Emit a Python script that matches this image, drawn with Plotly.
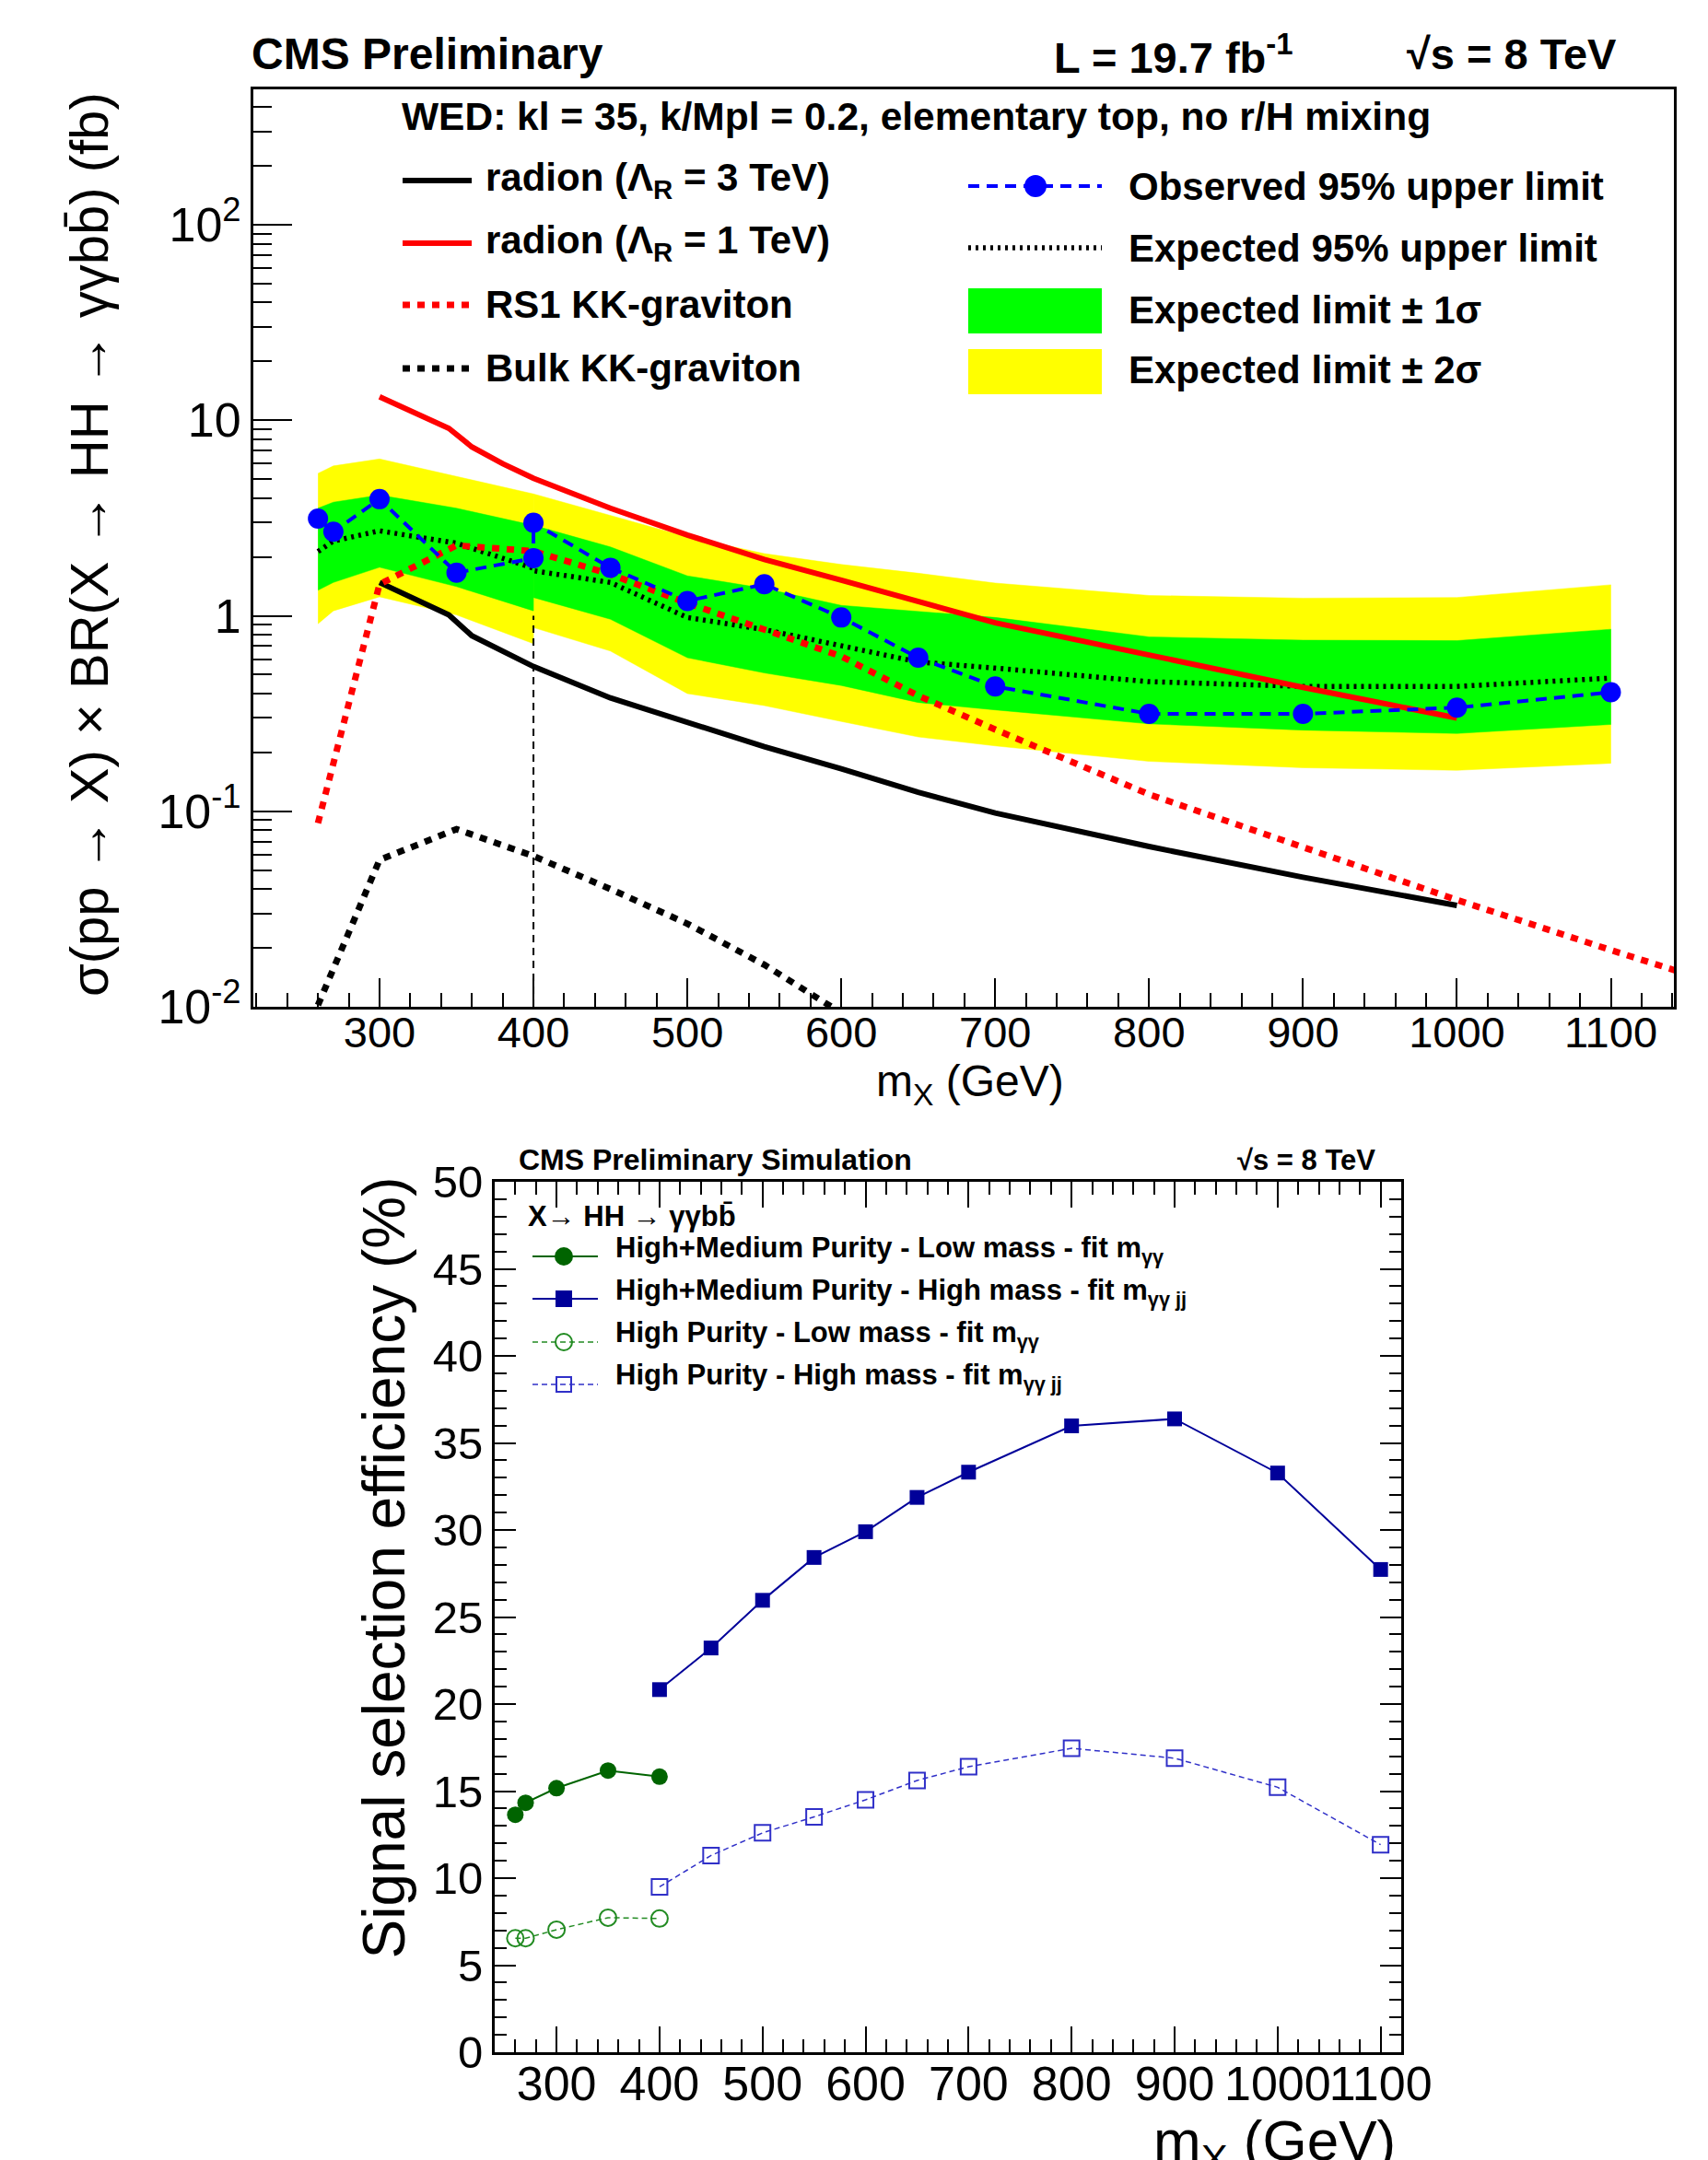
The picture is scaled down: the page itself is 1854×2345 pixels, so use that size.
import plotly.graph_objects as go

# ---------------- top panel data (sigma x BR, fb) ----------------
mass_low = [260, 270, 300, 350, 400]
mass_high = [400, 450, 500, 550, 600, 650, 700, 800, 900, 1000, 1100]

obs_low = [3.14, 2.69, 3.95, 1.66, 1.97]
obs_high = [2.99, 1.76, 1.19, 1.45, 0.98, 0.61, 0.435, 0.315, 0.315, 0.339, 0.406]

exp_low = [2.13, 2.41, 2.72, 2.35, 1.75]
exp_high = [1.70, 1.48, 0.98, 0.85, 0.70, 0.58, 0.54, 0.46, 0.435, 0.435, 0.48]

s1_up_low = [3.55, 3.81, 4.14, 3.55, 2.90]
s1_dn_low = [1.35, 1.48, 1.77, 1.41, 1.06]
s2_up_low = [5.35, 5.84, 6.34, 5.18, 4.20]
s2_dn_low = [0.91, 1.06, 1.25, 1.01, 0.72]

s1_up_high = [2.90, 2.25, 1.60, 1.38, 1.13, 1.05, 0.98, 0.78, 0.75, 0.746, 0.853]
s1_dn_high = [1.24, 0.96, 0.61, 0.51, 0.44, 0.36, 0.33, 0.28, 0.26, 0.25, 0.278]
s2_up_high = [4.20, 3.27, 2.53, 2.08, 1.83, 1.65, 1.47, 1.27, 1.23, 1.24, 1.44]
s2_dn_high = [0.87, 0.66, 0.40, 0.347, 0.288, 0.24, 0.216, 0.18, 0.167, 0.162, 0.176]

radion_mass = [300, 345, 360, 380, 400, 450, 500, 550, 600, 650, 700, 800, 900, 1000]
radion_1tev = [13.2, 9.1, 7.3, 6.0, 5.05, 3.55, 2.59, 1.94, 1.52, 1.18, 0.92, 0.63, 0.43, 0.30]
radion_3tev = [1.48, 1.01, 0.79, 0.66, 0.55, 0.38, 0.286, 0.214, 0.165, 0.125, 0.098, 0.066, 0.046, 0.033]

rs1_mass = [260, 300, 350, 400, 450, 500, 550, 600, 650, 700, 800, 900, 1000, 1100, 1200]
rs1_xsec = [0.087, 1.45, 2.29, 2.14, 1.63, 1.16, 0.85, 0.62, 0.39, 0.262, 0.122, 0.065, 0.0352, 0.0195, 0.011]

bulk_mass = [260, 300, 350, 400, 450, 500, 550, 600]
bulk_xsec = [0.0102, 0.0564, 0.081, 0.059, 0.040, 0.0266, 0.0164, 0.0093]

boundary_mass = [400, 400]
boundary_y = [0.01, 1.0]

# ---------------- bottom panel data (efficiency, %) ----------------
eff_mass_low = [260, 270, 300, 350, 400]
eff_mass_high = [400, 450, 500, 550, 600, 650, 700, 800, 900, 1000, 1100]
eff_hm_low = [13.64, 14.33, 15.17, 16.18, 15.83]
eff_hm_high = [20.83, 23.22, 25.96, 28.42, 29.90, 31.87, 33.32, 35.98, 36.38, 33.27, 27.73]
eff_hp_low = [6.55, 6.55, 7.04, 7.73, 7.68]
eff_hp_high = [9.50, 11.30, 12.60, 13.52, 14.50, 15.61, 16.40, 17.46, 16.89, 15.22, 11.92]

top_ytick_vals = [0.01, 0.1, 1, 10, 100]
top_ytick_text = ["10<sup>-2</sup>", "10<sup>-1</sup>", "1", "10", "10<sup>2</sup>"]

# ---------------- layout helpers ----------------
W, H = 1854, 2345
FONT = "Liberation Sans, Arial, Helvetica, sans-serif"


def px(x):
    return x / W


def py(y):
    return 1 - y / H


fig = go.Figure()

GREEN = "#00ff00"
YELLOW = "#ffff00"


def band(xs, up, dn, color):
    fig.add_trace(go.Scatter(x=xs + xs[::-1], y=up + dn[::-1], fill="toself",
                             fillcolor=color, mode="lines",
                             line=dict(color=color, width=0.5),
                             xaxis="x", yaxis="y", hoverinfo="skip", showlegend=False))


band(mass_low, s2_up_low, s2_dn_low, YELLOW)
band(mass_high, s2_up_high, s2_dn_high, YELLOW)
band(mass_low, s1_up_low, s1_dn_low, GREEN)
band(mass_high, s1_up_high, s1_dn_high, GREEN)

fig.add_trace(go.Scatter(x=boundary_mass, y=boundary_y, mode="lines",
                         line=dict(color="black", width=2, dash="8px,6px"),
                         xaxis="x", yaxis="y", showlegend=False))

EXP_DASH = "3px,5px"
fig.add_trace(go.Scatter(x=mass_low + mass_high, y=exp_low + exp_high, mode="lines",
                         line=dict(color="black", width=5.5, dash=EXP_DASH),
                         xaxis="x", yaxis="y", showlegend=False))

fig.add_trace(go.Scatter(x=radion_mass, y=radion_3tev, mode="lines",
                         line=dict(color="black", width=6),
                         xaxis="x", yaxis="y", showlegend=False))
fig.add_trace(go.Scatter(x=radion_mass, y=radion_1tev, mode="lines",
                         line=dict(color="#ff0000", width=6),
                         xaxis="x", yaxis="y", showlegend=False))
fig.add_trace(go.Scatter(x=rs1_mass, y=rs1_xsec, mode="lines",
                         line=dict(color="#ff0000", width=7, dash="8px,8px"),
                         xaxis="x", yaxis="y", showlegend=False))
fig.add_trace(go.Scatter(x=bulk_mass, y=bulk_xsec, mode="lines",
                         line=dict(color="black", width=7, dash="8px,8px"),
                         xaxis="x", yaxis="y", showlegend=False))

fig.add_trace(go.Scatter(x=mass_low + mass_high, y=obs_low + obs_high, mode="lines+markers",
                         line=dict(color="#0000ff", width=4, dash="12px,8px"),
                         marker=dict(color="#0000ff", size=22, symbol="circle"),
                         xaxis="x", yaxis="y", showlegend=False))

# ---------------- bottom panel traces ----------------
DKGREEN = "#006400"
DKBLUE = "#000099"
LTGREEN = "#228b22"
LTBLUE = "#3030c8"

fig.add_trace(go.Scatter(x=eff_mass_low, y=eff_hm_low, mode="lines+markers",
                         line=dict(color=DKGREEN, width=2),
                         marker=dict(color=DKGREEN, size=18, symbol="circle"),
                         xaxis="x2", yaxis="y2", showlegend=False))
fig.add_trace(go.Scatter(x=eff_mass_high, y=eff_hm_high, mode="lines+markers",
                         line=dict(color=DKBLUE, width=2),
                         marker=dict(color=DKBLUE, size=16, symbol="square"),
                         xaxis="x2", yaxis="y2", showlegend=False))
fig.add_trace(go.Scatter(x=eff_mass_low, y=eff_hp_low, mode="lines+markers",
                         line=dict(color=LTGREEN, width=1.5, dash="6px,4px"),
                         marker=dict(color=LTGREEN, size=18, symbol="circle-open",
                                     line=dict(width=2, color=LTGREEN)),
                         xaxis="x2", yaxis="y2", showlegend=False))
fig.add_trace(go.Scatter(x=eff_mass_high, y=eff_hp_high, mode="lines+markers",
                         line=dict(color=LTBLUE, width=1.5, dash="6px,4px"),
                         marker=dict(color=LTBLUE, size=17, symbol="square-open",
                                     line=dict(width=2, color=LTBLUE)),
                         xaxis="x2", yaxis="y2", showlegend=False))

# ---------------- axes ----------------
minor_log = [k * 10 ** e for e in range(-2, 3) for k in range(2, 10)]

fig.update_layout(
    template="none",
    width=W, height=H, autosize=False,
    margin=dict(l=0, r=0, t=0, b=0, pad=0, autoexpand=False),
    paper_bgcolor="white", plot_bgcolor="white",
    font=dict(family=FONT, color="black"),
    showlegend=False,
    xaxis=dict(domain=[px(275), px(1817)], range=[218, 1141], anchor="y", automargin=False,
               showline=True, linecolor="black", linewidth=3, mirror=True,
               showgrid=False, zeroline=False,
               ticks="inside", ticklen=31, tickwidth=2, tickcolor="black",
               tick0=0, dtick=100, tickangle=0, ticklabelstandoff=-15,
               tickfont=dict(size=47, family=FONT),
               minor=dict(ticks="inside", ticklen=15, tickwidth=2, tickcolor="black",
                          tick0=0, dtick=20, showgrid=False)),
    yaxis=dict(domain=[py(1093), py(97)], type="log", range=[-2, 2.6926], anchor="x",
               automargin=False,
               showline=True, linecolor="black", linewidth=3, mirror=True,
               showgrid=False, zeroline=False,
               ticks="inside", ticklen=42, tickwidth=2, tickcolor="black",
               tickmode="array", tickvals=top_ytick_vals, ticktext=top_ytick_text,
               tickfont=dict(size=52, family=FONT),
               minor=dict(ticks="inside", ticklen=20, tickwidth=2, tickcolor="black",
                          tickmode="array", tickvals=minor_log, showgrid=False)),
    xaxis2=dict(domain=[px(537), px(1521)], range=[240, 1120], anchor="y2", automargin=False,
                showline=True, linecolor="black", linewidth=3, mirror="ticks",
                showgrid=False, zeroline=False,
                ticks="inside", ticklen=28, tickwidth=2, tickcolor="black",
                tick0=0, dtick=100, tickangle=0, ticklabelstandoff=-13,
                tickfont=dict(size=52, family=FONT),
                minor=dict(ticks="inside", ticklen=14, tickwidth=2, tickcolor="black",
                           tick0=0, dtick=20, showgrid=False)),
    yaxis2=dict(domain=[py(2228), py(1283)], range=[0, 50], anchor="x2", automargin=False,
                showline=True, linecolor="black", linewidth=3, mirror="ticks",
                showgrid=False, zeroline=False,
                ticks="inside", ticklen=23, tickwidth=2, tickcolor="black",
                tick0=0, dtick=5,
                tickfont=dict(size=49, family=FONT),
                minor=dict(ticks="inside", ticklen=13, tickwidth=2, tickcolor="black",
                           tick0=0, dtick=1, showgrid=False)),
)

# ---------------- texts ----------------
ann = []


def text(x, y, s, size, xanchor="left", yanchor="middle", angle=0, bold=True):
    ann.append(dict(x=px(x), y=py(y), xref="paper", yref="paper", text=("<b>%s</b>" % s) if bold else s,
                    showarrow=False, xanchor=xanchor, yanchor=yanchor, textangle=angle,
                    font=dict(size=size, family=FONT, color="black")))


# top panel header
text(271, 59, "CMS Preliminary", 48)
text(1142, 59, "L = 19.7 fb<sup>-1</sup>", 47)
text(1757, 59, "\u221as = 8 TeV", 47, xanchor="right")
# legend header
text(434, 126, "WED: kl = 35, k/Mpl = 0.2, elementary top, no r/H mixing", 42.5)
# left legend
left_rows = [196, 264, 331, 400]
left_labels = ["radion (\u039b<sub>R</sub> = 3 TeV)", "radion (\u039b<sub>R</sub> = 1 TeV)",
               "RS1 KK-graviton", "Bulk KK-graviton"]
for yy, lab in zip(left_rows, left_labels):
    text(525, yy, lab, 42)
right_rows = [202, 269, 336, 401]
right_labels = ["Observed 95% upper limit", "Expected 95% upper limit",
                "Expected limit \u00b1 1\u03c3", "Expected limit \u00b1 2\u03c3"]
for yy, lab in zip(right_rows, right_labels):
    text(1223, yy, lab, 42)

# axis titles top
text(96, 98, "\u03c3(pp \u2192 X) \u00d7 BR(X \u2192 HH \u2192 \u03b3\u03b3bb\u0304) (fb)", 58,
     xanchor="center", yanchor="top", angle=-90, bold=False)
text(1053, 1177, "m<sub>X</sub> (GeV)", 48, xanchor="center", bold=False)

# bottom panel header
text(561, 1259, "CMS Preliminary Simulation", 32)
text(1495, 1259, "\u221as = 8 TeV", 31, xanchor="right")
text(571, 1320, "X\u2192 HH \u2192 \u03b3\u03b3bb\u0304", 31)
bot_rows = [1357, 1403, 1449, 1495]
bot_labels = ["High+Medium Purity - Low mass - fit m<sub>\u03b3\u03b3</sub>",
              "High+Medium Purity - High mass - fit m<sub>\u03b3\u03b3 jj</sub>",
              "High Purity - Low mass - fit m<sub>\u03b3\u03b3</sub>",
              "High Purity - High mass - fit m<sub>\u03b3\u03b3 jj</sub>"]
for yy, lab in zip(bot_rows, bot_labels):
    text(666, yy, lab, 31)

text(416, 1276, "Signal selection efficiency (%)", 64, xanchor="center", yanchor="top",
     angle=-90, bold=False)
text(1517, 2328, "m<sub>X</sub> (GeV)", 62, xanchor="right", bold=False)

fig.update_layout(annotations=ann)

# ---------------- legend keys (paper shapes) ----------------
shapes = []


def hline(x0, x1, y, color, width, dash="solid"):
    shapes.append(dict(type="line", xref="paper", yref="paper", x0=px(x0), x1=px(x1),
                       y0=py(y), y1=py(y), line=dict(color=color, width=width, dash=dash)))


def rect(x0, x1, y0, y1, color):
    shapes.append(dict(type="rect", xref="paper", yref="paper", x0=px(x0), x1=px(x1),
                       y0=py(y1), y1=py(y0), fillcolor=color, line=dict(width=0)))


def circ(cx, cy, r, color, fill=True):
    shapes.append(dict(type="circle", xref="paper", yref="paper", x0=px(cx - r), x1=px(cx + r),
                       y0=py(cy + r), y1=py(cy - r), fillcolor=color if fill else "rgba(0,0,0,0)",
                       line=dict(color=color, width=2)))


def sq(cx, cy, r, color, fill=True):
    shapes.append(dict(type="rect", xref="paper", yref="paper", x0=px(cx - r), x1=px(cx + r),
                       y0=py(cy + r), y1=py(cy - r), fillcolor=color if fill else "rgba(0,0,0,0)",
                       line=dict(color=color, width=2)))


hline(437, 512, left_rows[0], "black", 6)
hline(437, 512, left_rows[1], "#ff0000", 6)
hline(437, 512, left_rows[2], "#ff0000", 7, "8px,8px")
hline(437, 512, left_rows[3], "black", 7, "8px,8px")

hline(1051, 1196, right_rows[0], "#0000ff", 4, "12px,8px")
circ(1124, right_rows[0], 11, "#0000ff")
hline(1051, 1196, right_rows[1], "black", 5.5, EXP_DASH)
rect(1051, 1196, 313, 362, GREEN)
rect(1051, 1196, 379, 428, YELLOW)

bot_sample_rows = [1364, 1410, 1457, 1503]
hline(578, 649, bot_sample_rows[0], DKGREEN, 2)
circ(612, bot_sample_rows[0], 9, DKGREEN)
hline(578, 649, bot_sample_rows[1], DKBLUE, 2)
sq(612, bot_sample_rows[1], 8, DKBLUE)
hline(578, 649, bot_sample_rows[2], LTGREEN, 1.5, "6px,4px")
circ(612, bot_sample_rows[2], 9, LTGREEN, fill=False)
hline(578, 649, bot_sample_rows[3], LTBLUE, 1.5, "6px,4px")
sq(612, bot_sample_rows[3], 8, LTBLUE, fill=False)

fig.update_layout(shapes=shapes)

fig.write_html("out.html",
               config={"displayModeBar": False, "staticPlot": True},
               post_script="document.body.style.margin='0px';document.body.style.overflow='hidden';")
